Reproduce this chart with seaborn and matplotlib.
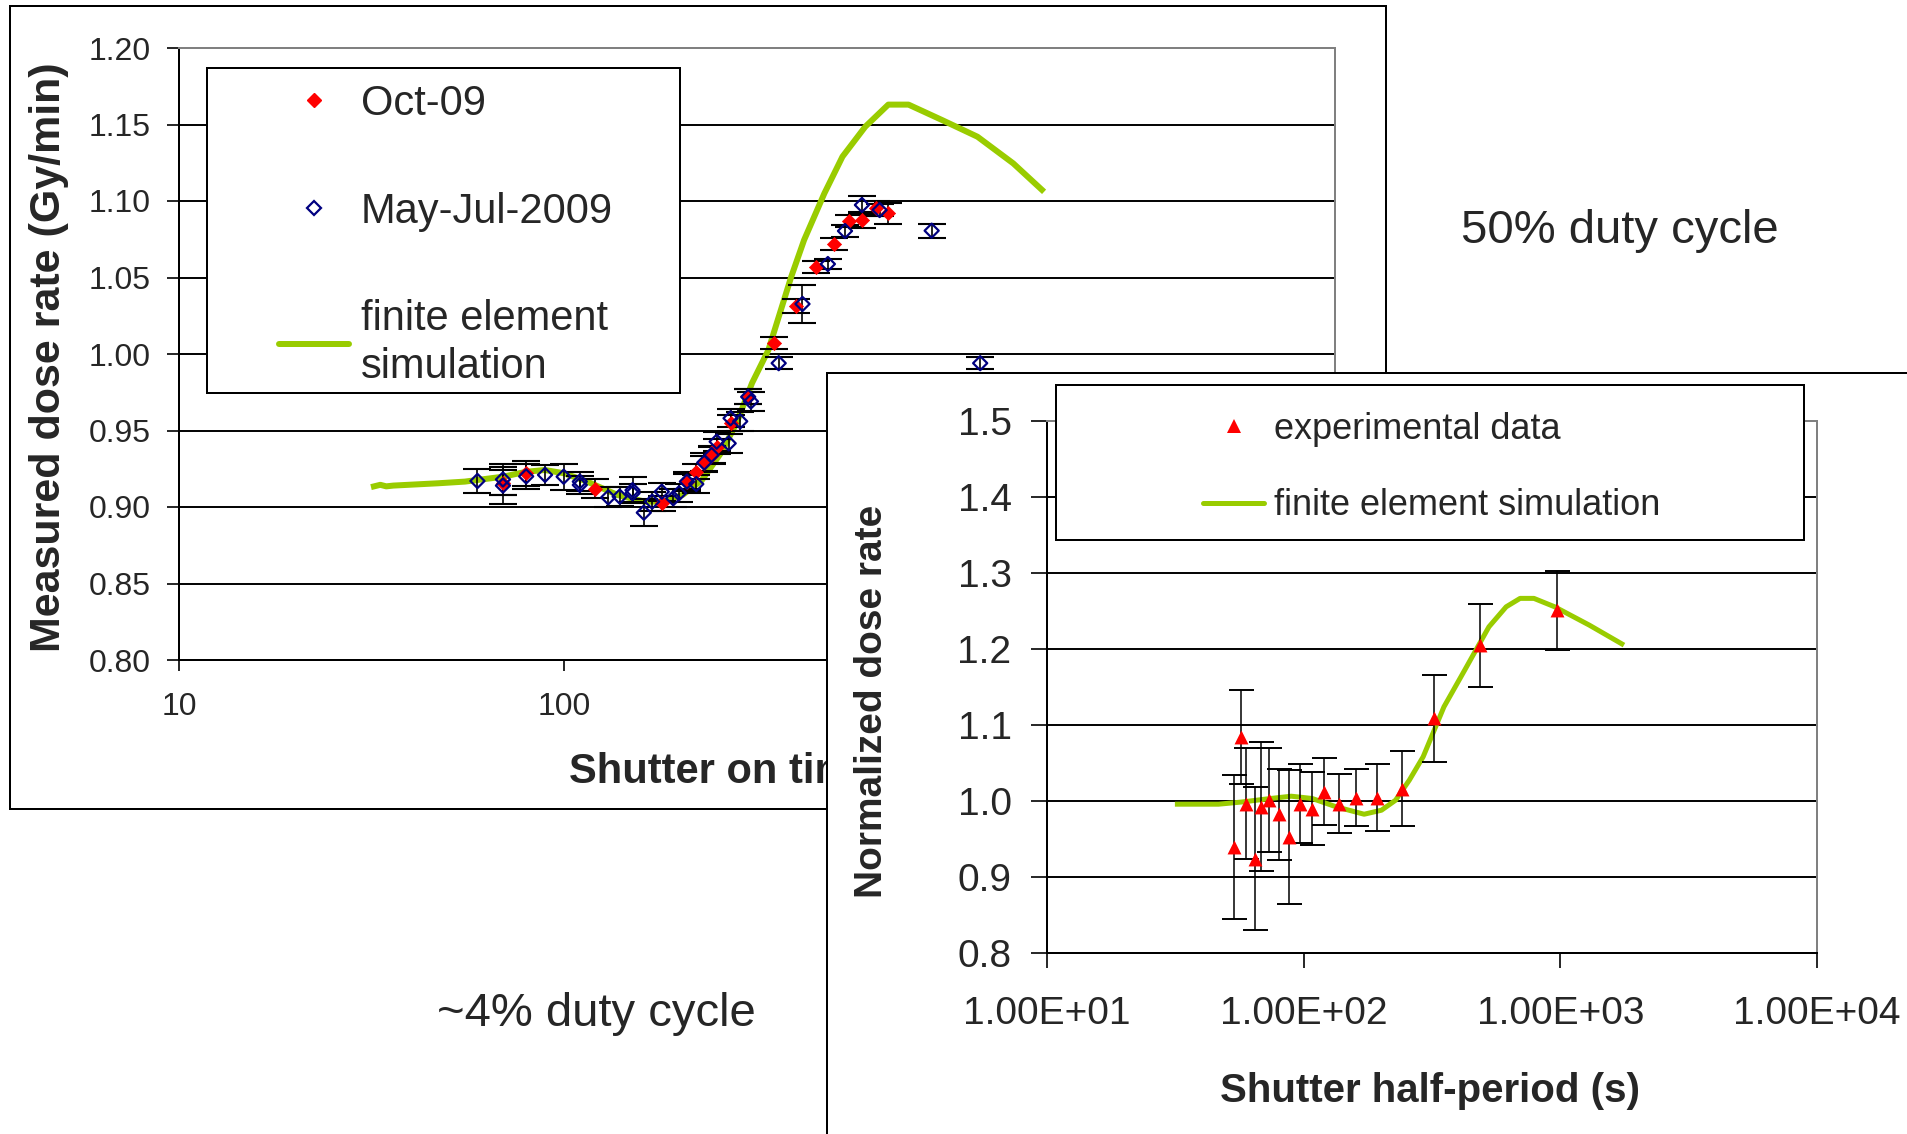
import matplotlib
matplotlib.use("Agg")
import matplotlib.pyplot as plt
import seaborn as sns
from matplotlib.patches import Rectangle
from matplotlib.lines import Line2D
from matplotlib.ticker import FixedLocator, FixedFormatter, FuncFormatter, NullLocator

# ---------------- data ----------------
# 4% duty cycle: dose rate vs shutter on time
sim_ontime_x = [31.5, 33.3, 34.5, 36, 47, 55.2, 69.3, 79.6, 89, 100, 114.6, 137.7, 161.7,
                181, 203, 227.6, 255, 280, 307, 338.5, 388, 419, 473, 527, 604, 693, 782,
                954, 1181, 1462, 1758]
sim_ontime_y = [0.913, 0.9145, 0.9135, 0.914, 0.9155, 0.9166, 0.9198, 0.923, 0.9242, 0.922,
                0.9166, 0.9078, 0.9035, 0.9035, 0.908, 0.9176, 0.9353, 0.955, 0.981, 1.0026,
                1.0505, 1.0745, 1.105, 1.129, 1.1486, 1.163, 1.163, 1.153, 1.142, 1.1246, 1.106]

oct_x = [69.3, 79.6, 120, 179, 208, 220, 230.7, 241, 248.5, 270, 300, 349, 400, 449.5, 500,
         547, 592, 642, 693]
oct_y = [0.916, 0.922, 0.912, 0.9024, 0.9166, 0.923, 0.9286, 0.934, 0.9394, 0.955, 0.972,
         1.007, 1.0314, 1.0571, 1.0717, 1.087, 1.0876, 1.0952, 1.092]
oct_err = [0.008, 0.008, 0.006, 0.005, 0.005, 0.005, 0.005, 0.005, 0.005, 0.005, 0.005, 0.004,
           0.0045, 0.004, 0.004, 0.004, 0.005, 0.005, 0.007]

may_x = [59.5, 69.3, 69.3, 79.6, 89.1, 99.6, 109.7, 109.7, 130, 139.2, 150.3, 150.3, 160.8,
         169, 179, 191.7, 198.5, 208, 220, 230.7, 241, 248.5, 267, 270, 286, 300, 305, 360,
         415, 483, 535, 592, 658, 898, 1200]
may_y = [0.917, 0.918, 0.914, 0.920, 0.921, 0.9198, 0.9166, 0.9144, 0.9063, 0.9068, 0.911,
         0.909, 0.8963, 0.9035, 0.910, 0.9057, 0.909, 0.9166, 0.915, 0.929, 0.934, 0.9427,
         0.9416, 0.958, 0.956, 0.972, 0.969, 0.994, 1.0327, 1.0588, 1.0804, 1.0974, 1.0941,
         1.0806, 0.994]
may_err = [0.008, 0.010, 0.012, 0.008, 0.0065, 0.0085, 0.006, 0.006, 0.0065, 0.006, 0.0087,
           0.006, 0.009, 0.006, 0.006, 0.006, 0.006, 0.006, 0.006, 0.006, 0.006, 0.006, 0.006,
           0.006, 0.006, 0.005, 0.006, 0.004, 0.0123, 0.003, 0.004, 0.006, 0.004, 0.0045, 0.004]

# 50% duty cycle: normalized dose rate vs shutter half-period
sim_half_x = [31.5, 46.6, 57.9, 74.3, 89.5, 108, 134, 172, 201, 228, 258, 292, 352, 424, 527,
              615, 697, 789, 951, 1297, 1770]
sim_half_y = [0.9958, 0.9958, 0.9988, 1.0033, 1.0063, 1.0033, 0.9923, 0.9826, 0.9879, 1.001,
              1.0274, 1.0581, 1.1239, 1.1722, 1.2292, 1.2555, 1.2666, 1.2666, 1.2555, 1.2314,
              1.2051]

exp_x = [53.7, 56.9, 59.7, 64.4, 68.5, 73.4, 80.1, 87.9, 97.1, 107.9, 120, 136.7, 159.7, 192.4,
         242, 320.6, 486, 968]
exp_y = [0.9396, 1.0844, 0.9967, 0.9243, 0.9924, 1.0011, 0.9826, 0.9527, 0.9967, 0.9901, 1.012,
         0.9967, 1.0046, 1.0046, 1.0164, 1.1086, 1.2051, 1.2512]
exp_err = [0.095, 0.062, 0.073, 0.094, 0.085, 0.068, 0.06, 0.088, 0.052, 0.048, 0.044, 0.039,
           0.038, 0.044, 0.049, 0.057, 0.0546, 0.052]

left_yticks = [0.80, 0.85, 0.90, 0.95, 1.00, 1.05, 1.10, 1.15, 1.20]
left_xticks = [10, 100, 1000, 10000]
# the two upper decade labels sit under the 50% panel, so they stay blank
left_xticklabels = ["10", "100", "", ""]
right_yticks = [0.8, 0.9, 1.0, 1.1, 1.2, 1.3, 1.4, 1.5]
right_xticks = [10, 100, 1000, 10000]

# ---------------- style ----------------
sns.set_style("white")
plt.rcParams["font.family"] = ["Liberation Sans", "DejaVu Sans"]

GREEN = "#99CC00"
RED = "#FF0000"
NAVY = "#000080"
GRAY = "#808080"
PX = 72 / 100  # points per pixel

W, H = 1907, 1134
fig = plt.figure(figsize=(W / 100, H / 100), dpi=100)


def fig_axes(left, top, right, bottom):
    return fig.add_axes([left / W, 1 - bottom / H, (right - left) / W, (bottom - top) / H])


# ---------------- left panel: ~4% duty cycle ----------------
fig.add_artist(Rectangle((10 / W, 1 - 809 / H), (1386 - 10) / W, (809 - 6) / H,
                         transform=fig.transFigure, fc="white", ec="black",
                         lw=2 * PX, zorder=0.5))

ax1 = fig_axes(179, 48, 1335, 660)
ax1.set_zorder(1)
ax1.set_xscale("log")

sns.lineplot(x=sim_ontime_x, y=sim_ontime_y, ax=ax1, color=GREEN, linewidth=6 * PX,
             sort=False, estimator=None, zorder=2, legend=False,
             solid_joinstyle="round", solid_capstyle="butt")
ax1.errorbar(oct_x, oct_y, yerr=oct_err, fmt="none", ecolor="black", elinewidth=1.2,
             capsize=10, capthick=1.5, zorder=3)
ax1.errorbar(may_x, may_y, yerr=may_err, fmt="none", ecolor="black", elinewidth=1.2,
             capsize=10, capthick=1.5, zorder=3)
sns.scatterplot(x=oct_x, y=oct_y, ax=ax1, marker="D", s=52, color=RED, edgecolor=RED,
                linewidth=0.5, zorder=4, legend=False)
sns.scatterplot(x=may_x, y=may_y, ax=ax1, marker="D", s=52, facecolor="none",
                edgecolor=NAVY, linewidth=1.6, zorder=5, legend=False)

ax1.set_xlim(10, 10000)
ax1.set_ylim(0.80, 1.20)
ax1.xaxis.set_major_locator(FixedLocator(left_xticks))
ax1.xaxis.set_minor_locator(NullLocator())
ax1.xaxis.set_major_formatter(FixedFormatter(left_xticklabels))
ax1.yaxis.set_major_locator(FixedLocator(left_yticks))
ax1.yaxis.set_major_formatter(FuncFormatter(lambda v, p: f"{v:.2f}"))
ax1.yaxis.grid(True, color="black", linewidth=1.4)
ax1.xaxis.grid(False)
ax1.set_axisbelow(True)
ax1.tick_params(axis="y", direction="out", length=12 * PX, width=1.4, pad=12,
                labelsize=23, left=True)
ax1.tick_params(axis="x", direction="out", length=11 * PX, width=1.4, pad=15,
                labelsize=23, bottom=True)
for side in ("left", "bottom"):
    ax1.spines[side].set_color("black")
    ax1.spines[side].set_linewidth(2 * PX)
for side in ("top", "right"):
    ax1.spines[side].set_color(GRAY)
    ax1.spines[side].set_linewidth(2 * PX)

ax1.set_ylabel("Measured dose rate (Gy/min)", fontsize=31, fontweight="bold")
ax1.yaxis.set_label_coords((49 - 179) / 1156, (660 - 357) / 612)
ax1.yaxis.label.set_va("center")
ax1.set_xlabel("Shutter on time (s)", fontsize=30, fontweight="bold")
ax1.xaxis.set_label_coords(0.497, (660 - 772) / 612)
ax1.xaxis.label.set_va("center")

ax1.add_patch(Rectangle((207 / W, 1 - 393 / H), (680 - 207) / W, (393 - 68) / H,
                        transform=fig.transFigure, fc="white", ec="black", lw=2 * PX,
                        zorder=6, clip_on=False))
h_oct = Line2D([], [], ls="none", marker="D", ms=7.1, mfc=RED, mec=RED)
h_may = Line2D([], [], ls="none", marker="D", ms=7.1, mfc="none", mec=NAVY, mew=1.6)
h_sim = Line2D([], [], color=GREEN, lw=6 * PX)
leg1 = ax1.legend([h_oct, h_may, h_sim], ["Oct-09", "May-Jul-2009", "finite element\nsimulation"],
                  loc="upper left", bbox_to_anchor=(279 / W, 1 - 84 / H),
                  bbox_transform=fig.transFigure, frameon=False, borderpad=0,
                  borderaxespad=0, handlelength=1.68, handletextpad=0.29,
                  labelspacing=1.62, fontsize=30, numpoints=1)
for t in leg1.get_texts():
    t.set_linespacing(1.25)
leg1.set_zorder(7)

# ---------------- right panel: 50% duty cycle ----------------
fig.add_artist(Rectangle((827 / W, -0.2), 1.0, (1 - 373 / H) + 0.2,
                         transform=fig.transFigure, fc="white", ec="black",
                         lw=2 * PX, zorder=2, clip_on=False))

ax2 = fig_axes(1047, 421, 1817, 953)
ax2.set_zorder(3)
ax2.set_xscale("log")

sns.lineplot(x=sim_half_x, y=sim_half_y, ax=ax2, color=GREEN, linewidth=5 * PX,
             sort=False, estimator=None, zorder=2, legend=False,
             solid_joinstyle="round", solid_capstyle="butt")
ax2.errorbar(exp_x, exp_y, yerr=exp_err, fmt="none", ecolor="black", elinewidth=1.1,
             capsize=9, capthick=1.4, zorder=3)
sns.scatterplot(x=exp_x, y=exp_y, ax=ax2, marker="^", s=100, color=RED, edgecolor=RED,
                linewidth=0, zorder=4, legend=False)

ax2.set_xlim(10, 10000)
ax2.set_ylim(0.8, 1.5)
ax2.xaxis.set_major_locator(FixedLocator(right_xticks))
ax2.xaxis.set_minor_locator(NullLocator())
ax2.xaxis.set_major_formatter(FuncFormatter(lambda v, p: f"{v:.2E}"))
ax2.yaxis.set_major_locator(FixedLocator(right_yticks))
ax2.yaxis.set_major_formatter(FuncFormatter(lambda v, p: f"{v:.1f}"))
ax2.yaxis.grid(True, color="black", linewidth=1.4)
ax2.xaxis.grid(False)
ax2.set_axisbelow(True)
ax2.tick_params(axis="y", direction="out", length=16 * PX, width=1.4, pad=14,
                labelsize=28, left=True)
ax2.tick_params(axis="x", direction="out", length=15 * PX, width=1.4, pad=20,
                labelsize=28, bottom=True)
for side in ("left", "bottom"):
    ax2.spines[side].set_color("black")
    ax2.spines[side].set_linewidth(2 * PX)
for side in ("top", "right"):
    ax2.spines[side].set_color(GRAY)
    ax2.spines[side].set_linewidth(2 * PX)

ax2.set_ylabel("Normalized dose rate", fontsize=28, fontweight="bold")
ax2.yaxis.set_label_coords((872 - 1047) / 770, (953 - 701) / 532)
ax2.yaxis.label.set_va("center")
ax2.set_xlabel("Shutter half-period (s)", fontsize=29, fontweight="bold")
ax2.xaxis.set_label_coords((1430 - 1047) / 770, (953 - 1091) / 532)
ax2.xaxis.label.set_va("center")

ax2.add_patch(Rectangle((1056 / W, 1 - 540 / H), (1804 - 1056) / W, (540 - 385) / H,
                        transform=fig.transFigure, fc="white", ec="black", lw=2 * PX,
                        zorder=6, clip_on=False))
h_exp = Line2D([], [], ls="none", marker="^", ms=10, mfc=RED, mec=RED, mew=0)
h_sim2 = Line2D([], [], color=GREEN, lw=5 * PX)
leg2 = ax2.legend([h_exp, h_sim2], ["experimental data", "finite element simulation"],
                  loc="upper left", bbox_to_anchor=(1203 / W, 1 - 412 / H),
                  bbox_transform=fig.transFigure, frameon=False, borderpad=0,
                  borderaxespad=0, handlelength=1.69, handletextpad=0.28,
                  labelspacing=1.14, fontsize=26, numpoints=1)
leg2.set_zorder(7)

# ---------------- annotations ----------------
fig.text(1620 / W, 1 - 231 / H, "50% duty cycle", ha="center", va="center",
         fontsize=34, zorder=5)
fig.text(596 / W, 1 - 1014 / H, "~4% duty cycle", ha="center", va="center",
         fontsize=34, zorder=5)

fig.savefig("out.png", dpi=100, facecolor="white")
